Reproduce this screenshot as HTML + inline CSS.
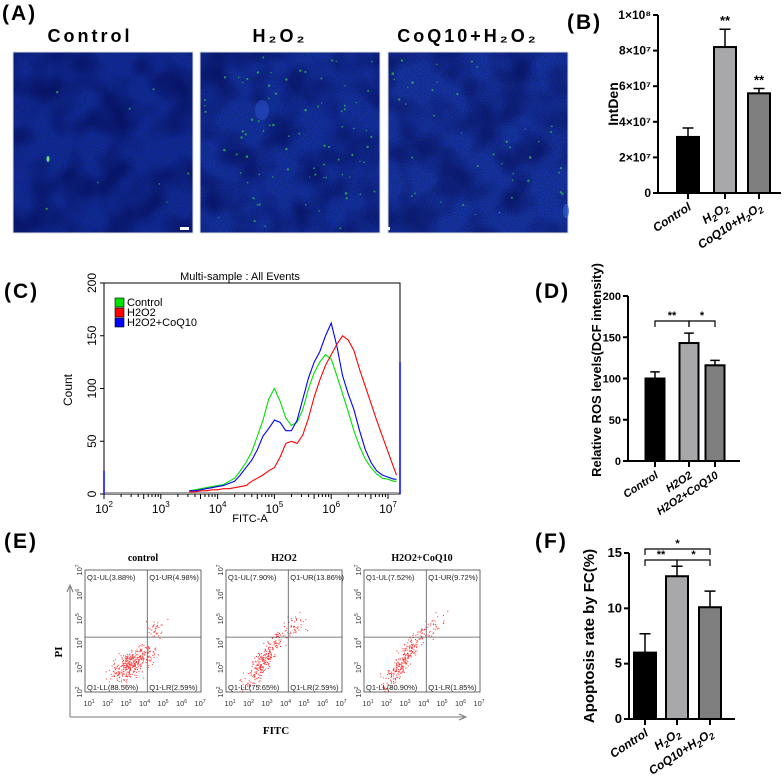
<!DOCTYPE html>
<html><head><meta charset="utf-8">
<style>
html,body{margin:0;padding:0;background:#fff;}
svg{display:block;font-family:"Liberation Sans",Arial,sans-serif;}
</style></head>
<body>
<svg id="fig" width="784" height="778" viewBox="0 0 784 778" xmlns="http://www.w3.org/2000/svg">
<defs>
<filter id="tex" x="0" y="0" width="100%" height="100%">
<feTurbulence type="fractalNoise" baseFrequency="0.9" numOctaves="2" seed="4"/>
<feColorMatrix type="matrix" values="0 0 0 0 0  0 0 0 0 0.02  0 0 0 0 0.1  1.6 0 0 0 -0.55"/>
</filter>
<filter id="tex2" x="0" y="0" width="100%" height="100%">
<feTurbulence type="fractalNoise" baseFrequency="0.03" numOctaves="2" seed="9"/>
<feColorMatrix type="matrix" values="0 0 0 0 0  0 0 0 0 0  0 0 0 0 0.05  1.2 0 0 0 -0.45"/>
</filter>
</defs>
</svg>
<script>
// ---------- data ----------
const bCats = ["Control","H2O2","CoQ10+H2O2"];
const bVals = [3.15e7, 8.2e7, 5.6e7];
const bErrs = [0.5e7, 1.0e7, 0.27e7];
const bTicks = [0,2e7,4e7,6e7,8e7,1e8];
const bTickLabels = ["0","2×10⁷","4×10⁷","6×10⁷","8×10⁷","1×10⁸"];

const dCats = ["Control","H2O2","H2O2+CoQ10"];
const dVals = [100, 143, 116];
const dErrs = [8, 12, 6];
const dTicks = [0,50,100,150,200];

const fCats = ["Control","H2O2","CoQ10+H2O2"];
const fVals = [6.0, 12.9, 10.1];
const fErrs = [1.7, 0.9, 1.45];
const fTicks = [0,5,10,15];

const histLogX = [3.5,3.6,3.7,3.8,3.9,4.0,4.1,4.2,4.3,4.4,4.5,4.6,4.7,4.8,4.9,5.0,5.1,5.2,5.3,5.4,5.5,5.6,5.7,5.8,5.9,6.0,6.1,6.2,6.3,6.4,6.5,6.6,6.7,6.8,6.9,7.0,7.1,7.15];
const histControl = [3,4,5,6,7,8,9,12,15,22,30,40,55,70,90,100,88,72,65,68,80,100,115,125,132,128,112,95,78,60,45,33,25,19,15,14,12,12];
const histH2O2 = [2,2,3,3,4,4,5,5,6,7,8,12,15,18,22,25,35,48,50,48,56,72,92,108,122,132,142,150,146,136,118,102,86,70,55,40,25,18];
const histCoQ10 = [3,3,4,5,6,7,8,10,12,18,25,32,42,55,62,70,68,60,60,70,90,110,125,135,150,162,140,112,95,80,60,42,30,22,18,16,14,14];
const histTicks = [0,50,100,150,200];
const histDecades = [2,3,4,5,6,7];

const eTitles = ["control","H2O2","H2O2+CoQ10"];
const eQuadLabels = [
 ["Q1-UL(3.88%)","Q1-UR(4.98%)","Q1-LL(88.56%)","Q1-LR(2.59%)"],
 ["Q1-UL(7.90%)","Q1-UR(13.86%)","Q1-LL(75.65%)","Q1-LR(2.59%)"],
 ["Q1-UL(7.52%)","Q1-UR(9.72%)","Q1-LL(80.90%)","Q1-LR(1.85%)"]];
const eClusterX = [[3.0,3.7,4.6],[2.6,3.3,4.5],[2.7,3.4,4.5]];
const eClusterY = [[3.0,3.5,4.6],[3.1,3.9,4.7],[3.1,3.9,4.7]];
const eClusterN = [[220,140,35],[170,110,40],[170,100,35]];
const eSlope = [0.3,1.0,1.0];

// ---------- helpers ----------
const NS="http://www.w3.org/2000/svg";
const svg=document.getElementById('fig');
function mk(tag,attrs,parent){const e=document.createElementNS(NS,tag);for(const k in attrs)e.setAttribute(k,attrs[k]);(parent||svg).appendChild(e);return e;}
function txt(s,attrs,parent){const e=mk('text',attrs,parent);e.textContent=s;return e;}
let seed=12345;function rnd(){seed=(seed*1103515245+12345)%2147483648;return seed/2147483648;}
function gauss(){let u=0;for(let i=0;i<4;i++)u+=rnd();return (u-2)/0.58;}

// ---------- panel labels ----------
const panelLabels=[["(A)",2,20],["(B)",567,29],["(C)",4,298],["(D)",535,298],["(E)",4,548],["(F)",535,548]];
panelLabels.forEach(p=>{
 const t=txt(p[0],{x:p[1],y:p[2],'font-size':21,'font-weight':'bold','letter-spacing':'2'});
 
 
});

// ---------- panel A ----------
const aG=mk('g',{});


const aTitles=[["Control",90],["H₂O₂",280],["CoQ10+H₂O₂",468]];
aTitles.forEach((t,i)=>{
 const e=txt(t[0],{x:t[1],y:42,'text-anchor':'middle','font-size':18,'font-weight':'bold','letter-spacing':'3'},aG);
 
 
});
const aX=[13,200,388];
const greenCounts=[8,80,40];
const baseCols=["#1428a0","#172ea8","#1a32ac"];
aX.forEach((x,i)=>{
 const g=mk('g',{},aG);
 
 
 mk('rect',{x:x,y:52,width:180,height:181,fill:baseCols[i]},g);
 mk('rect',{x:x,y:52,width:180,height:181,filter:'url(#tex)'},g);
 mk('rect',{x:x,y:52,width:180,height:181,filter:'url(#tex2)'},g);
 for(let k=0;k<greenCounts[i];k++){
  mk('circle',{cx:x+4+rnd()*172,cy:56+rnd()*173,r:0.6+rnd()*0.7,fill:'#2fc04a',opacity:0.75},g);
 }
 mk('rect',{x:x,y:52,width:180,height:181,fill:'none',stroke:'#ddd','stroke-width':1},g);
});
mk('ellipse',{cx:48,cy:159,rx:1.5,ry:3,fill:'#6de07a'},aG);
mk('ellipse',{cx:262,cy:110,rx:7,ry:10,fill:'#2a4ec0',opacity:0.6},aG);
mk('ellipse',{cx:566,cy:211,rx:3,ry:7,fill:'#2f5ed0',opacity:0.7},aG);
const sb1=mk('rect',{x:180,y:227,width:9,height:3,fill:'#fff'},aG);


const sb2=mk('rect',{x:381,y:227,width:9,height:3,fill:'#fff'},aG);



// ---------- generic bar chart ----------
function barChart(o){
 const g=mk('g',{});
 
 
 const y=v=>o.y0-(v-o.min)/(o.max-o.min)*(o.y0-o.y1);
 const ax=mk('line',{x1:o.ax,y1:o.y1,x2:o.ax,y2:o.y0,stroke:'#000','stroke-width':2},g);
 
 
 const xa=mk('line',{x1:o.ax,y1:o.y0,x2:o.xEnd,y2:o.y0,stroke:'#000','stroke-width':2},g);
 
 
 o.ticks.forEach((t,i)=>{
  mk('line',{x1:o.ax-5,y1:y(t),x2:o.ax,y2:y(t),stroke:'#000','stroke-width':2},g);
  const tl=txt(o.tickLabels?o.tickLabels[i]:String(t),{x:o.ax-7,y:y(t)+4,'text-anchor':'end','font-size':o.tfs||12,'font-weight':'bold'},g);
  
  
 });
 const fills=['#000','#a8a8aa','#7f7f80'];
 o.vals.forEach((v,i)=>{
  const cx=o.cx[i];
  const bar=mk('rect',{x:cx-o.bw/2,y:y(v),width:o.bw,height:o.y0-y(v),fill:fills[i],stroke:'#000','stroke-width':2},g);
  
  
  const eb=mk('path',{d:`M${cx},${y(v)} V${y(v+o.errs[i])} M${cx-o.bw/4},${y(v+o.errs[i])} H${cx+o.bw/4}`,stroke:'#000','stroke-width':1.5,fill:'none'},g);
  
  
  mk('line',{x1:cx,y1:o.y0,x2:cx,y2:o.y0+6,stroke:'#000','stroke-width':2},g);
  if(o.stars&&o.stars[i]){
   const st=txt(o.stars[i],{x:cx,y:y(v+o.errs[i])-4,'text-anchor':'middle','font-size':13,'font-weight':'bold'},g);
   
   
  }
  const lab=o.xLabels[i];
  const t=mk('text',{transform:`translate(${cx+4},${o.y0+16}) rotate(-33)`,'text-anchor':'end','font-size':o.xfs||12,'font-weight':'bold','font-style':'italic'},g);
  t.innerHTML=lab;
  
  
 });
 const yl=txt(o.ylabel,{transform:`translate(${o.ylx},${o.yly}) rotate(-90)`,'text-anchor':'middle','font-size':o.yfs||14,'font-weight':'bold'},g);
 
 
 (o.brackets||[]).forEach(b=>{
  const x1=o.cx[b[0]],x2=o.cx[b[1]];
  const br=mk('path',{d:`M${x1},${b[2]+6} V${b[2]} H${x2} V${b[2]+6}`,stroke:'#000','stroke-width':1.2,fill:'none'},g);
  
  
  const bs=txt(b[3],{x:(x1+x2)/2,y:b[2]-2,'text-anchor':'middle','font-size':11,'font-weight':'bold'},g);
  
  
 });
 return g;
}
const sub2='<tspan>H</tspan><tspan font-size="9" dy="3">2</tspan><tspan dy="-3">O</tspan><tspan font-size="9" dy="3">2</tspan>';
const coqSub='<tspan>CoQ10+H</tspan><tspan font-size="9" dy="3">2</tspan><tspan dy="-3">O</tspan><tspan font-size="9" dy="3">2</tspan>';
barChart({name:'panel-b-intden-chart',cats:bCats,vals:bVals,errs:bErrs,ticks:bTicks,tickLabels:bTickLabels,min:0,max:1e8,
 ax:658,y0:193,y1:15,xEnd:781,cx:[688,725,759],bw:22,stars:["","**","**"],
 xLabels:["Control",sub2,coqSub],ylabel:"IntDen",ylx:618,yly:104,yfs:14,tfs:12,xfs:12});
barChart({name:'panel-d-ros-chart',cats:dCats,vals:dVals,errs:dErrs,ticks:dTicks,min:0,max:200,
 ax:628,y0:461,y1:296,xEnd:740,cx:[655,689,715],bw:19,
 xLabels:["Control","H2O2","H2O2+CoQ10"],ylabel:"Relative ROS levels(DCF intensity)",ylx:601,yly:370,yfs:13,tfs:11,xfs:11,
 brackets:[[0,1,321,"**"],[1,2,321,"*"]]});
barChart({name:'panel-f-apoptosis-chart',cats:fCats,vals:fVals,errs:fErrs,ticks:fTicks,min:0,max:15,
 ax:629,y0:719,y1:553,xEnd:735,cx:[645,677,710],bw:22,
 xLabels:["Control",sub2,coqSub],ylabel:"Apoptosis rate by FC(%)",ylx:594,yly:636,yfs:15,tfs:13,xfs:12,
 brackets:[[0,2,549,"*"],[0,1,560,"**"],[1,2,560,"*"]]});

// ---------- panel C histogram ----------
(function(){
 const g=mk('g',{});
 
 
 const L=104,R=400,T=283,B=494;
 const xs=l=>L+(l-2)*56.8, ys=c=>B-c*(B-T)/200;
 const fr=mk('rect',{x:L,y:T,width:R-L,height:B-T,fill:'none',stroke:'#000','stroke-width':1},g);
 
 
 const ti=txt("Multi-sample : All Events",{x:240,y:280,'text-anchor':'middle','font-size':11},g);
 
 
 histTicks.forEach(t=>{
  mk('line',{x1:L-4,y1:ys(t),x2:L,y2:ys(t),stroke:'#000'},g);
  const tl=txt(String(t),{transform:`translate(${L-8},${ys(t)}) rotate(-90)`,'text-anchor':'middle','font-size':12},g);
  
  
 });
 histDecades.forEach(d=>{
  mk('line',{x1:xs(d),y1:B,x2:xs(d),y2:B+5,stroke:'#000'},g);
  const tl=mk('text',{x:xs(d),y:B+19,'text-anchor':'middle','font-size':12},g);
  tl.innerHTML='10<tspan font-size="8" dy="-6">'+d+'</tspan>';
  
  
  if(d<7)for(let k=2;k<10;k++){const xx=xs(d+Math.log10(k));mk('line',{x1:xx,y1:B,x2:xx,y2:B+(k==5?5:3),stroke:'#000'},g);}
 });
 const xt=txt("FITC-A",{x:250,y:522,'text-anchor':'middle','font-size':11},g);
 
 
 const yt=txt("Count",{transform:`translate(72,390) rotate(-90)`,'text-anchor':'middle','font-size':12},g);
 
 
 mk('rect',{x:L+1,y:B-2,width:R-L-2,height:2,fill:'#a0a0a0'},g);
 const series=[[histControl,'#00e000','control'],[histCoQ10,'#0000ff','h2o2-coq10'],[histH2O2,'#ff0000','h2o2']];
 series.forEach(s=>{
  let d='';
  histLogX.forEach((l,i)=>{d+=(i?'L':'M')+xs(l).toFixed(1)+','+ys(s[0][i]).toFixed(1)+' ';});
  const p=mk('path',{d:d,fill:'none',stroke:s[1],'stroke-width':1.1},g);
  
  
 });
 mk('line',{x1:R,y1:ys(125),x2:R,y2:B,stroke:'#0000ff','stroke-width':1.5},g);
 mk('line',{x1:L,y1:ys(22),x2:L,y2:B,stroke:'#0000ff','stroke-width':1.5},g);
 const leg=[["Control",'#00e000'],["H2O2",'#ff0000'],["H2O2+CoQ10",'#0000ff']];
 leg.forEach((e,i)=>{
  const lg=mk('g',{},g);
  
  
  mk('rect',{x:115,y:298+i*10,width:9,height:9,fill:e[1],stroke:'#000','stroke-width':0.6},lg);
  txt(e[0],{x:127,y:306+i*10,'font-size':11},lg);
 });
})();

// ---------- panel E dot plots ----------
(function(){
 const g=mk('g',{});
 
 
 const lefts=[85,226,364],W=116,T=570,B=692;
 lefts.forEach((L,i)=>{
  const pg=mk('g',{},g);
  
  
  const xs=l=>L+4+(l-1)*18.5, ys=l=>B-(l-2)*24.4;
  const tt=txt(eTitles[i],{x:L+W/2,y:561,'text-anchor':'middle','font-size':10,'font-weight':'bold','font-family':'Liberation Serif,serif'},pg);
  
  
  mk('rect',{x:L,y:T,width:W,height:B-T,fill:'none',stroke:'#444','stroke-width':0.8},pg);
  for(let c=0;c<3;c++){
   for(let k=0;k<eClusterN[i][c];k++){
    const a=gauss()*(c==2?0.25:0.45);
    const lx=eClusterX[i][c]+a+gauss()*0.15;
    const ly=eClusterY[i][c]+a*eSlope[i]*(c==2?0.6:1)+gauss()*(c==0?0.25:0.2);
    const px=xs(lx),py=ys(ly);
    if(px>L+1&&px<L+W-1&&py>T+1&&py<B-1)mk('rect',{x:px,y:py,width:1,height:1,fill:'#ff3030'},pg);
   }
  }
  const qx=xs(4.15),qy=ys(4.25);
  const ql=mk('path',{d:`M${qx},${T} V${B} M${L},${qy} H${L+W}`,stroke:'#555','stroke-width':0.8,fill:'none'},pg);
  
  
  const ql2=eQuadLabels[i];
  [[ql2[0],L+2,580],[ql2[1],qx+2,580],[ql2[2],L+2,690],[ql2[3],qx+2,690]].forEach(q=>{
   const t=txt(q[0],{x:q[1],y:q[2],'font-size':7.5,fill:'#222'},pg);
   
   
  });
  for(let d=1;d<=7;d++){
   const t=mk('text',{x:xs(d),y:706,'text-anchor':'middle','font-size':7.5,fill:'#333'},pg);
   t.innerHTML='10<tspan font-size="5" dy="-3">'+d+'</tspan>';
   
   
  }
  for(let d=2;d<=7;d++){
   const t=mk('text',{transform:`translate(${L-3},${ys(d)}) rotate(-90)`,'text-anchor':'middle','font-size':7.5,fill:'#333'},pg);
   t.innerHTML='10<tspan font-size="5" dy="-3">'+d+'</tspan>';
   
   
  }
 });
 const ax=mk('path',{d:'M70,717 V587 M67,592 L70,585 L73,592 M70,717 H464 M459,714 L466,717 L459,720',stroke:'#777','stroke-width':1,fill:'none'},g);
 
 
 const pi=txt("PI",{transform:'translate(62,652) rotate(-90)','text-anchor':'middle','font-size':11,'font-weight':'bold','font-family':'Liberation Serif,serif'},g);
 
 
 const ft=txt("FITC",{x:276,y:734,'text-anchor':'middle','font-size':11,'font-weight':'bold','font-family':'Liberation Serif,serif'},g);
 
 
})();
</script>
</body></html>
